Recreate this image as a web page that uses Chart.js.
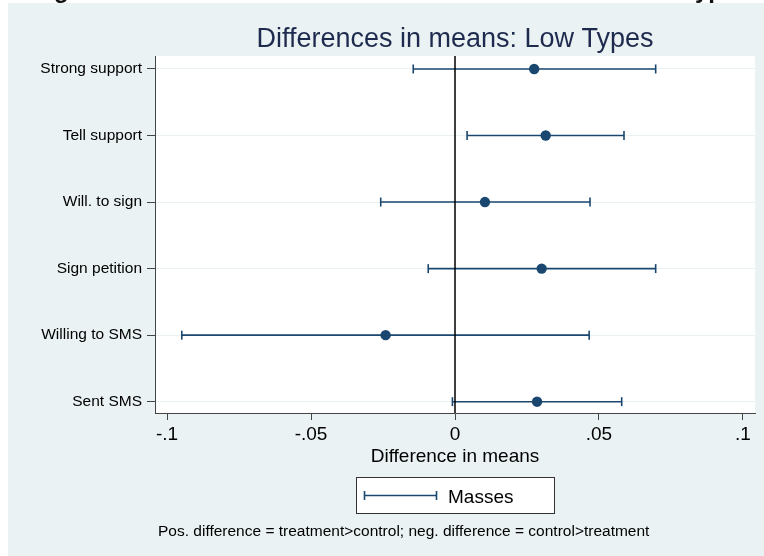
<!DOCTYPE html>
<html>
<head>
<meta charset="utf-8">
<script src="https://cdn.jsdelivr.net/npm/chart.js@4"></script>
<style>
  html, body { margin: 0; padding: 0; background: #fff; }
  #wrap { width: 764px; height: 556px; }
</style>
</head>
<body>
<div id="wrap"><canvas id="chart" width="764" height="556"></canvas></div>
<script>
// values
const categories = ["Strong support", "Tell support", "Will. to sign", "Sign petition", "Willing to SMS", "Sent SMS"];
const means = [0.0275, 0.0315, 0.0104, 0.0301, -0.0241, 0.0285];
const lower = [-0.0145, 0.0042, -0.0258, -0.0093, -0.0949, -0.0009];
const upper = [0.0697, 0.0587, 0.0469, 0.0697, 0.0466, 0.0579];
const xTicks = [-0.1, -0.05, 0, 0.05, 0.1];
const xMin = -0.1042, xMax = 0.1042;
const yMin = -0.195, yMax = 5.17;

const navy = "#1a476f";
const FONT = "'Liberation Sans', Arial, Helvetica, sans-serif";

// stata style number labels: -.05, .1, 0
function fmt(v) {
  if (Math.abs(v) < 1e-9) return "0";
  let s = String(Math.round(v * 1000) / 1000);
  return s.replace("0.", ".");
}

// one line dataset per confidence interval, caps via rotated line points
let ciSets = categories.map((c, i) => ({
  label: i == 0 ? "Masses" : "",
  type: "line",
  data: [{ x: lower[i], y: i }, { x: upper[i], y: i }],
  borderColor: navy,
  borderWidth: 1.6,
  pointStyle: "line",
  pointRotation: 90,
  pointRadius: 4.5,
  pointBorderColor: navy,
  pointBorderWidth: 1.6,
  showLine: true,
}));

const zeroLine = {
  type: "line",
  data: [{ x: 0, y: yMin }, { x: 0, y: yMax }],
  borderColor: "#000",
  borderWidth: 1.5,
  pointRadius: 0,
  showLine: true,
};

const pointSet = {
  type: "scatter",
  data: means.map((m, i) => ({ x: m, y: i })),
  backgroundColor: navy,
  borderColor: navy,
  borderWidth: 0,
  pointRadius: 5.2,
};

// backgrounds, legend box, note text
const decor = {
  id: "decor",
  beforeDraw(chart) {
    const ctx = chart.ctx;
    const a = chart.chartArea;
    ctx.save();
    ctx.fillStyle = "#fff";
    ctx.fillRect(0, 0, chart.width, chart.height);
    // cropped heading above the figure, only its descenders show
    ctx.fillStyle = "#111";
    ctx.font = "bold 24px " + FONT;
    ctx.textBaseline = "alphabetic";
    ctx.fillText("g", 54, -2);
    ctx.fillText("yp", 695, -2);
    ctx.fillStyle = "#eaf2f3";
    ctx.fillRect(8, 3, chart.width - 8, chart.height - 3);
    ctx.fillStyle = "#fff";
    ctx.fillRect(a.left, a.top, a.right - a.left, a.bottom - a.top);
    ctx.restore();
  },
  afterDraw(chart) {
    const ctx = chart.ctx;
    ctx.save();
    // legend
    ctx.fillStyle = "#fff";
    ctx.fillRect(356, 477, 198, 36);
    ctx.strokeStyle = "#333";
    ctx.lineWidth = 1;
    ctx.strokeRect(356.5, 477.5, 198, 36);
    ctx.strokeStyle = navy;
    ctx.lineWidth = 1.6;
    ctx.beginPath();
    ctx.moveTo(364, 495.5);
    ctx.lineTo(437, 495.5);
    ctx.moveTo(364.5, 491);
    ctx.lineTo(364.5, 500);
    ctx.moveTo(436.5, 491);
    ctx.lineTo(436.5, 500);
    ctx.stroke();
    ctx.fillStyle = "#000";
    ctx.font = "19px " + FONT;
    ctx.textBaseline = "middle";
    ctx.textAlign = "left";
    ctx.fillText(ciSets[0].label, 448, 497.5);
    // note
    ctx.font = "15.5px " + FONT;
    ctx.fillText("Pos. difference = treatment>control; neg. difference = control>treatment", 158, 531.5);
    ctx.restore();
  },
};

const chart = new Chart(document.getElementById("chart"), {
  type: "scatter",
  data: { datasets: [zeroLine, ...ciSets, pointSet] },
  options: {
    responsive: false,
    animation: false,
    events: [],
    layout: { padding: { left: 0, right: 9, top: 0, bottom: 0 } },
    plugins: {
      legend: { display: false },
      tooltip: { enabled: false },
      title: {
        display: true,
        text: "Differences in means: Low Types",
        color: "#1e2b4e",
        fullSize: false,
        font: { family: FONT, size: 27, weight: "normal", lineHeight: 1.2 },
        padding: { top: 23.6, bottom: 0 },
      },
    },
    scales: {
      x: {
        type: "linear",
        min: xMin,
        max: xMax,
        afterBuildTicks: (s) => { s.ticks = xTicks.map((v) => ({ value: v })); },
        afterFit: (s) => { s.height = 143; },
        ticks: {
          color: "#000",
          font: { family: FONT, size: 19 },
          padding: 3,
          maxRotation: 0,
          callback: (v) => fmt(v),
        },
        grid: { drawOnChartArea: false, tickLength: 7, tickColor: "#444", tickWidth: 1 },
        border: { color: "#444", width: 1 },
        title: {
          display: true,
          text: "Difference in means",
          color: "#000",
          font: { family: FONT, size: 19, lineHeight: 1.2 },
          padding: { top: 0, bottom: 88 },
        },
      },
      y: {
        type: "linear",
        reverse: true,
        min: yMin,
        max: yMax,
        afterBuildTicks: (s) => { s.ticks = categories.map((c, i) => ({ value: i })); },
        afterFit: (s) => { s.width = 155; },
        ticks: {
          color: "#000",
          font: { family: FONT, size: 15.5 },
          padding: 5,
          callback: (v) => categories[v],
        },
        grid: { color: "#eaf1f3", lineWidth: 1, tickLength: 8, tickColor: "#444", tickWidth: 1 },
        border: { color: "#444", width: 1 },
      },
    },
  },
  plugins: [decor],
});
</script>
</body>
</html>
